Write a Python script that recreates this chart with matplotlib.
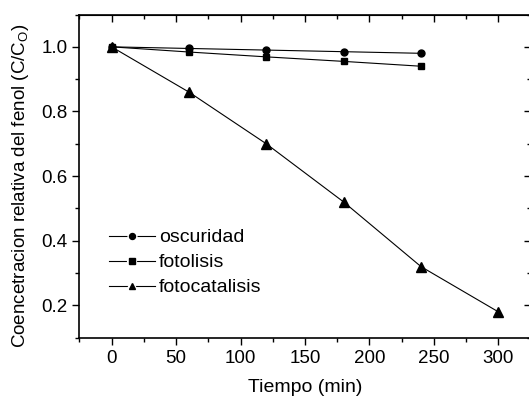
import matplotlib
matplotlib.use("Agg")
import matplotlib.pyplot as plt
from matplotlib.ticker import MultipleLocator
from matplotlib.lines import Line2D
from matplotlib.legend_handler import HandlerTuple

plt.rcParams['font.family'] = ['Liberation Sans', 'DejaVu Sans']

tiempo = [0, 60, 120, 180, 240]
tiempo_cat = [0, 60, 120, 180, 240, 300]
oscuridad = [1.0, 0.995, 0.99, 0.985, 0.98]
fotolisis = [1.0, 0.984, 0.969, 0.955, 0.94]
fotocatalisis = [1.0, 0.86, 0.70, 0.52, 0.32, 0.18]
series_labels = ['oscuridad', 'fotolisis', 'fotocatalisis']

fig = plt.figure(figsize=(5.29, 3.99), dpi=100)
ax = fig.add_axes([0.150, 0.1536, 0.853, 0.810])

lw = 0.8
ax.plot(tiempo, oscuridad, color='black', lw=lw, marker='o', ms=5.0)
ax.plot(tiempo, fotolisis, color='black', lw=lw, marker='s', ms=4.5)
ax.plot(tiempo_cat, fotocatalisis, color='black', lw=lw, marker='^', ms=6.5)

ax.set_xlim(-25, 325)
ax.set_ylim(0.1, 1.1)
ax.set_xticks([0, 50, 100, 150, 200, 250, 300])
ax.xaxis.set_minor_locator(MultipleLocator(25))
ax.set_yticks([0.2, 0.4, 0.6, 0.8, 1.0])
ax.set_yticklabels(['0.2', '0.4', '0.6', '0.8', '1.0'])
ax.yaxis.set_minor_locator(MultipleLocator(0.1))

ax.tick_params(which='both', direction='out', top=False, right=False, labelsize=13.5, width=1)
ax.tick_params(which='major', length=5)
ax.tick_params(which='minor', length=3)

# Mirrored inward ticks on top and right
sx = ax.secondary_xaxis('top')
sx.set_xticks([0, 50, 100, 150, 200, 250, 300])
sx.xaxis.set_minor_locator(MultipleLocator(25))
sx.tick_params(which='major', direction='in', length=5, labeltop=False, width=1)
sx.tick_params(which='minor', direction='in', length=3, width=1)
sy = ax.secondary_yaxis('right')
sy.set_yticks([0.2, 0.4, 0.6, 0.8, 1.0])
sy.yaxis.set_minor_locator(MultipleLocator(0.1))
sy.tick_params(which='major', direction='in', length=5, labelright=False, width=1)
sy.tick_params(which='minor', direction='in', length=3, width=1)

for s in ax.spines.values():
    s.set_linewidth(1.2)

ax.set_xlabel('Tiempo (min)', fontsize=14, labelpad=9)
ax.set_ylabel('Coencetracion relativa del fenol (C/C$_\\mathregular{O}$)', fontsize=13.5)
ax.yaxis.set_label_coords(-0.107, 0.47)

# Legend keys: line with the symbol sitting in a small white gap
legend_styles = [('o', 4.3), ('s', 3.8), ('^', 5.0)]
handles = []
for m, ms in legend_styles:
    handles.append((Line2D([], [], color='black', lw=lw),
                    Line2D([], [], color='black', ls='none', marker=m, ms=ms,
                           mec='white', mew=3.0),
                    Line2D([], [], color='black', ls='none', marker=m, ms=ms)))
ax.legend(handles, series_labels, handler_map={tuple: HandlerTuple(ndivide=1, pad=0)},
          loc='upper left', bbox_to_anchor=(0.065, 0.337), frameon=False, fontsize=14,
          handlelength=2.4, handletextpad=0.2, labelspacing=0.38, borderaxespad=0,
          borderpad=0)

fig.savefig('out.png', dpi=100)
